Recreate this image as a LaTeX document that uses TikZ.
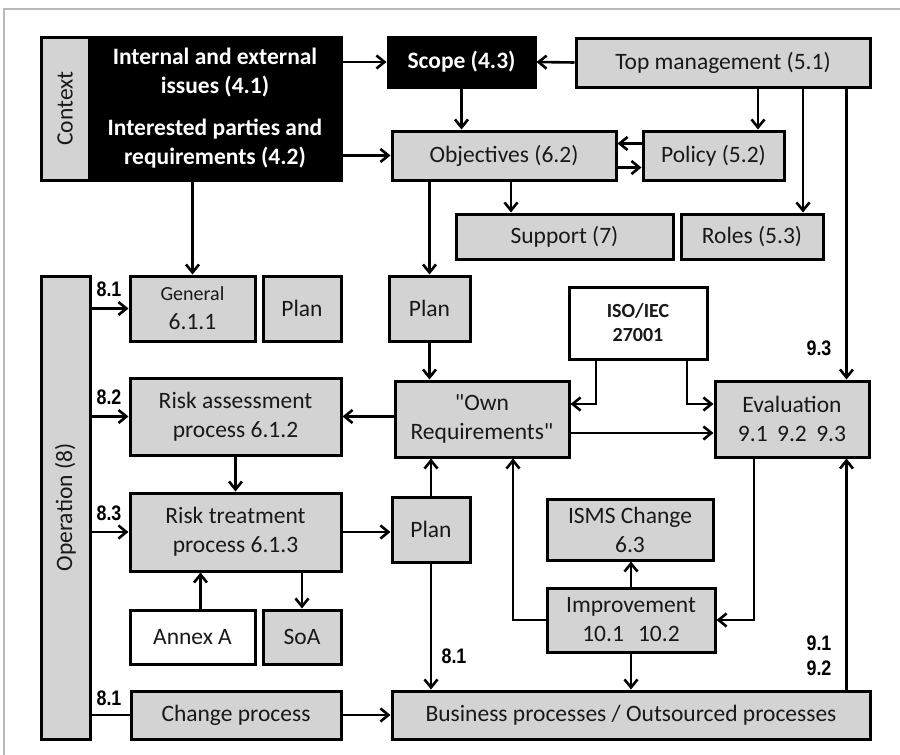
\documentclass[tikz,border=0pt]{standalone}
\usepackage{fontspec}
\setmainfont{Carlito}[Ligatures=TeXOff]
\newfontfamily\numfont[FakeStretch=0.85]{Liberation Sans}
\usepackage{graphicx}
\usetikzlibrary{arrows.meta}
\definecolor{boxgray}{RGB}{211,211,211}
\newcommand{\txt}{\fontsize{11.75pt}{14.5pt}\selectfont}

\begin{document}
\begin{tikzpicture}[
    x=0.5pt,
    y=-0.5pt,
    >={Straight Barb[length=4pt, width=6.5pt]},
    line width=1.3pt,
    box/.style={draw, line width=1.5pt, fill=boxgray, inner sep=0pt, align=center, font=\txt, text=black!90},
    dark/.style={box, fill=black, text=white, font=\txt\bfseries},
    blank/.style={box, fill=white},
    wh/.style 2 args={minimum width=#1*0.5pt, minimum height=#2*0.5pt},
    num/.style={inner sep=0pt, align=center, font=\numfont\bfseries\fontsize{10.5pt}{12.5pt}\selectfont}
]
    \useasboundingbox (0,0) rectangle (900,755);
    \draw[gray!55, line width=0.75pt] (4,755) -- (4,9) -- (900,9);

    \node[box, wh={48}{143}] (context) at (65,108.5) {\rotatebox{90}{Context}};
    \node[dark, wh={252}{71}] (issues) at (215,72.5) {Internal and external\\issues (4.1)};
    \node[dark, wh={252}{72}] (parties) at (215,144) {Interested parties and\\requirements (4.2)};
    \node[dark, wh={147}{50}] (scope) at (461.5,62) {Scope (4.3)};
    \node[box, wh={294}{49}] (topmgmt) at (723,62.5) {Top management (5.1)};
    \node[box, wh={224}{49}] (objectives) at (504,155.5) {Objectives (6.2)};
    \node[box, wh={141}{49}] (policy) at (713.5,155.5) {Policy (5.2)};
    \node[box, wh={217}{45}] (support) at (564.5,236.5) {Support (7)};
    \node[box, wh={142}{45}] (roles) at (752,236.5) {Roles (5.3)};

    \node[box, wh={49}{463}] (operation) at (65.5,507.5) {\rotatebox{90}{Operation (8)}};
    \node[box, wh={125}{65}] (general) at (192.5,308.5) {{\fontsize{10pt}{13.5pt}\selectfont General}\\6.1.1};
    \node[box, wh={78}{65}] (plangen) at (302,308.5) {Plan};
    \node[box, wh={81}{65}] (planobj) at (429.5,308.5) {Plan};
    \node[blank, wh={138}{72}, font=\fontsize{10pt}{12pt}\selectfont\bfseries] (iso) at (638,323) {ISO/IEC\\27001};
    \node[box, wh={211}{77}] (assess) at (235.5,416.5) {Risk assessment\\process 6.1.2};
    \node[box, wh={174}{76}] (ownreq) at (482,419) {"Own\\Requirements"};
    \node[box, wh={154}{76}] (eval) at (792,419) {Evaluation\\9.1\hspace{0.4em}9.2\hspace{0.4em}9.3};
    \node[box, wh={211}{78}] (treat) at (235.5,532) {Risk treatment\\process 6.1.3};
    \node[box, wh={78}{65}] (plantreat) at (431,529.5) {Plan};
    \node[box, wh={166}{61}] (isms) at (630,529.5) {ISMS Change\\6.3};
    \node[box, wh={168}{64}] (improve) at (631,620) {Improvement\\10.1\hspace{0.6em}10.2};
    \node[blank, wh={125}{54}] (annex) at (192.5,637) {Annex A};
    \node[box, wh={78}{54}] (soa) at (302,637) {SoA};
    \node[box, wh={210}{48}] (change) at (236,715) {Change process};
    \node[box, wh={478}{48}] (business) at (631,715) {Business processes / Outsourced processes};

    \node[num] (n81a) at (109,289) {8.1};
    \node[num] (n82) at (109,397) {8.2};
    \node[num] (n83) at (109,513) {8.3};
    \node[num] (n81b) at (109,698) {8.1};
    \node[num] (n81c) at (454,656) {8.1};
    \node[num] (n93) at (819,348) {9.3};
    \node[num] (n912) at (819,656) {9.1\\9.2};

    % context and leadership
    \draw[->] (scope.west -| issues.east) -- (scope.west);
    \draw[->] (topmgmt.west) -- (scope.east);
    \draw[->] (objectives.west -| parties.east) -- (objectives.west);
    \draw[->] (parties.south -| general.north) -- (general.north);
    \draw[->] (scope.south) -- (scope.south |- objectives.north);
    \draw[->] ([xshift=17.5pt]topmgmt.south) -- ([xshift=17.5pt]topmgmt.south |- policy.north);
    \draw[->] ([xshift=40pt]topmgmt.south) -- ([xshift=40pt]topmgmt.south |- roles.north);
    \draw[->] ([xshift=-12pt]eval.north east |- topmgmt.south) -- ([xshift=-12pt]eval.north east);
    \draw[->] ([yshift=6pt]policy.west) -- ([yshift=6pt]policy.west -| objectives.east);
    \draw[->] ([yshift=-6pt]objectives.east) -- ([yshift=-6pt]objectives.east -| policy.west);
    \draw[->] ([xshift=3.5pt]objectives.south) -- ([xshift=3.5pt]objectives.south |- support.north);
    \draw[->] (objectives.south -| planobj.north) -- (planobj.north);

    % operation and planning
    \draw[->] (operation.east |- general.west) -- (general.west);
    \draw[->] (operation.east |- assess.west) -- (assess.west);
    \draw[->] (operation.east |- treat.west) -- (treat.west);
    \draw (operation.east |- change.west) -- (change.west);
    \draw[->] (planobj.south) -- (planobj.south |- ownreq.north);
    \draw[->] (ownreq.west |- assess.east) -- (assess.east);
    \draw[->] (assess.south) -- (treat.north);
    \draw[->] (treat.east) -- (treat.east -| plantreat.west);
    \draw[->] ([xshift=4pt]annex.north) -- ([xshift=4pt]annex.north |- treat.south);
    \draw[->] (treat.south -| soa.north) -- (soa.north);
    \draw[->] (plantreat.north) -- (plantreat.north |- ownreq.south);
    \draw[->] (plantreat.south) -- (plantreat.south |- business.north);
    \draw[->] (change.east) -- (business.west);

    % evaluation and improvement
    \draw[->] ([xshift=-21pt]iso.south) |- ([yshift=7.5pt]ownreq.east);
    \draw[->] ([xshift=24.5pt]iso.south) |- ([yshift=7.5pt]eval.west);
    \draw[->] ([yshift=-7pt]ownreq.east) -- ([yshift=-7pt]ownreq.east -| eval.west);
    \draw[->] ([xshift=-19pt]eval.south) |- (improve.east);
    \draw[->] ([xshift=-12pt]eval.south east |- business.north) -- ([xshift=-12pt]eval.south east);
    \draw[->] (improve.north) -- (improve.north |- isms.south);
    \draw[->] (improve.south) -- (improve.south |- business.north);
    \draw[->] (improve.west) -| ([xshift=15.5pt]ownreq.south);
\end{tikzpicture}
\end{document}
